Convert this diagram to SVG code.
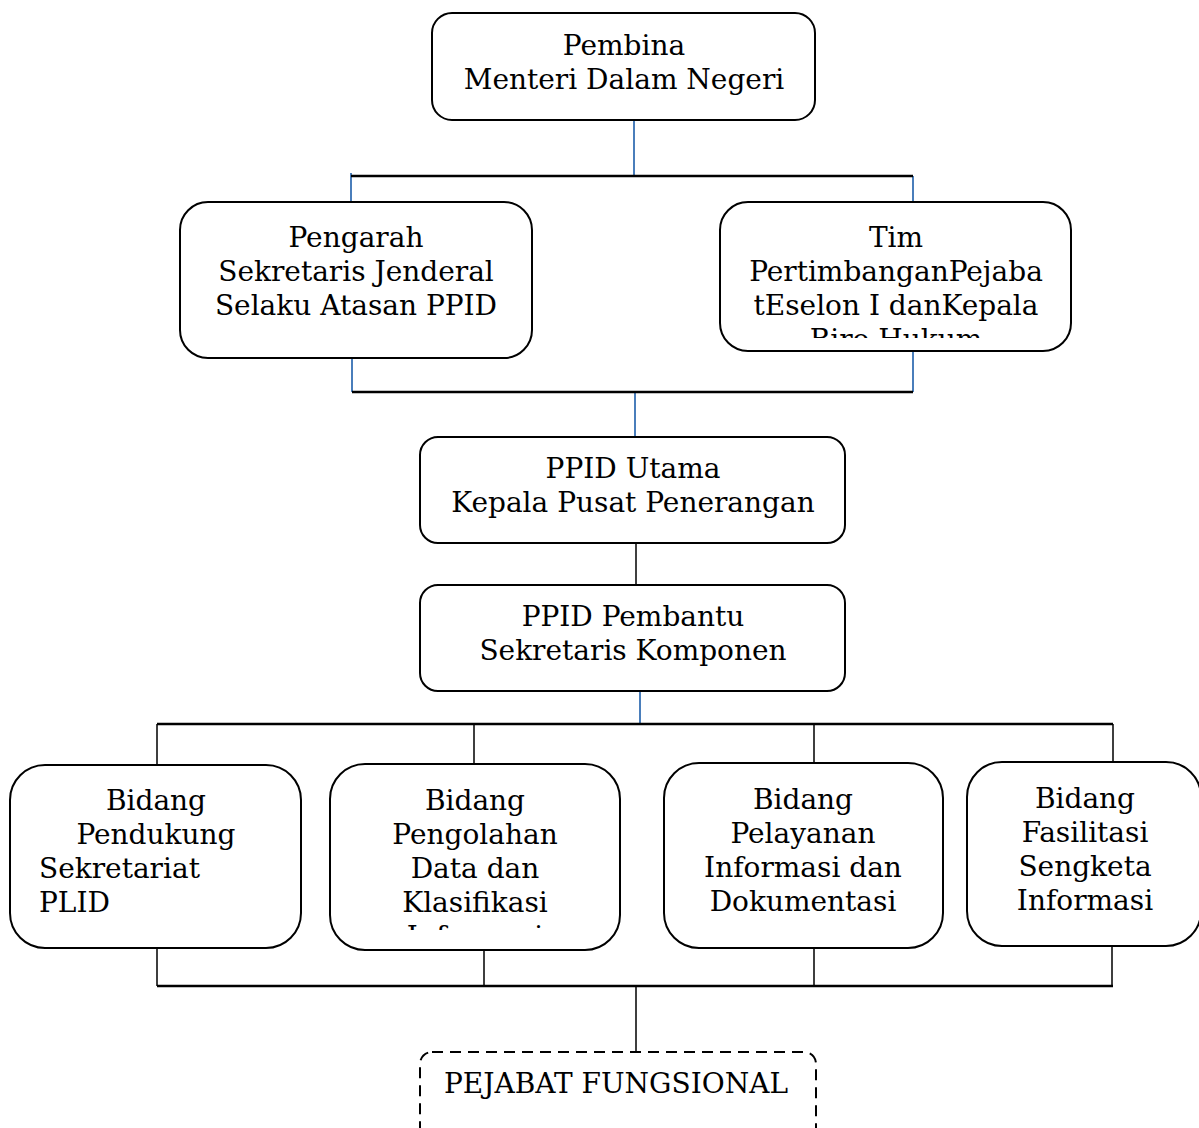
<svg xmlns="http://www.w3.org/2000/svg" width="1199" height="1128" viewBox="0 0 1199 1128">
<style>
.box{fill:#fff;stroke:#000;stroke-width:2}
.dash{fill:#fff;stroke:#000;stroke-width:2;stroke-dasharray:11 7}
.t{font-family:"DejaVu Serif","Liberation Serif",serif;font-size:28px;fill:#000;text-anchor:middle}
.l{text-anchor:start}
.blue{stroke:#4a7ebb;stroke-width:2;fill:none}
.blk{stroke:#000;stroke-width:2.5;fill:none}
.thin{stroke:#000;stroke-width:1.5;fill:none}
</style>
<defs>
<clipPath id="c1"><rect x="720" y="202" width="351" height="136"/></clipPath>
<clipPath id="c2"><rect x="330" y="764" width="290" height="166"/></clipPath>
</defs>
<rect width="1199" height="1128" fill="#fff"/>
<g id="connectors">
<path class="blue" d="M634 120V176M351 173V202M913 176V202"/>
<path class="blk" d="M351 176H913"/>
<path class="blue" d="M352 358V392M913 351V392M635 392V437"/>
<path class="blk" d="M352 392H913"/>
<path class="thin" d="M636 543V585"/>
<path class="blue" d="M640 691V724"/>
<path class="blk" d="M157 724H1113"/>
<path class="thin" d="M157 724V765M474 724V764M814 724V763M1113 724V762"/>
<path class="thin" d="M157 948V986M484 950V986M814 948V986M1112 946V986M636 986V1052"/>
<path class="blk" d="M157 986H1113"/>
</g>
<g id="pembina">
<rect class="box" x="432" y="13" width="383" height="107" rx="20"/>
<text class="t" x="624" y="55">Pembina</text>
<text class="t" x="624" y="89">Menteri Dalam Negeri</text>
</g>
<g id="pengarah">
<rect class="box" x="180" y="202" width="352" height="156" rx="28"/>
<text class="t" x="356" y="247">Pengarah</text>
<text class="t" x="356" y="281">Sekretaris Jenderal</text>
<text class="t" x="356" y="315">Selaku Atasan PPID</text>
</g>
<g id="tim">
<rect class="box" x="720" y="202" width="351" height="149" rx="28"/>
<g clip-path="url(#c1)">
<text class="t" x="896" y="247">Tim</text>
<text class="t" x="896" y="281">PertimbanganPejaba</text>
<text class="t" x="896" y="315">tEselon I danKepala</text>
<text class="t" x="896" y="349">Biro Hukum</text>
</g>
</g>
<g id="ppid-utama">
<rect class="box" x="420" y="437" width="425" height="106" rx="18"/>
<text class="t" x="633" y="478">PPID Utama</text>
<text class="t" x="633" y="512">Kepala Pusat Penerangan</text>
</g>
<g id="ppid-pembantu">
<rect class="box" x="420" y="585" width="425" height="106" rx="18"/>
<text class="t" x="633" y="626">PPID Pembantu</text>
<text class="t" x="633" y="660">Sekretaris Komponen</text>
</g>
<g id="bidang1">
<rect class="box" x="10" y="765" width="291" height="183" rx="35"/>
<text class="t" x="156" y="810">Bidang</text>
<text class="t" x="156" y="844">Pendukung</text>
<text class="t l" x="39" y="878">Sekretariat</text>
<text class="t l" x="39" y="912">PLID</text>
</g>
<g id="bidang2">
<rect class="box" x="330" y="764" width="290" height="186" rx="35"/>
<g clip-path="url(#c2)">
<text class="t" x="475" y="810">Bidang</text>
<text class="t" x="475" y="844">Pengolahan</text>
<text class="t" x="475" y="878">Data dan</text>
<text class="t" x="475" y="912">Klasifikasi</text>
<text class="t" x="475" y="946">Informasi</text>
</g>
</g>
<g id="bidang3">
<rect class="box" x="664" y="763" width="279" height="185" rx="35"/>
<text class="t" x="803" y="809">Bidang</text>
<text class="t" x="803" y="843">Pelayanan</text>
<text class="t" x="803" y="877">Informasi dan</text>
<text class="t" x="803" y="911">Dokumentasi</text>
</g>
<g id="bidang4">
<rect class="box" x="967" y="762" width="234" height="184" rx="35"/>
<text class="t" x="1085" y="808">Bidang</text>
<text class="t" x="1085" y="842">Fasilitasi</text>
<text class="t" x="1085" y="876">Sengketa</text>
<text class="t" x="1085" y="910">Informasi</text>
</g>
<g id="pejabat">
<rect class="dash" x="420" y="1052" width="396" height="90" rx="12"/>
<text class="t" x="616" y="1093">PEJABAT FUNGSIONAL</text>
</g>
</svg>
